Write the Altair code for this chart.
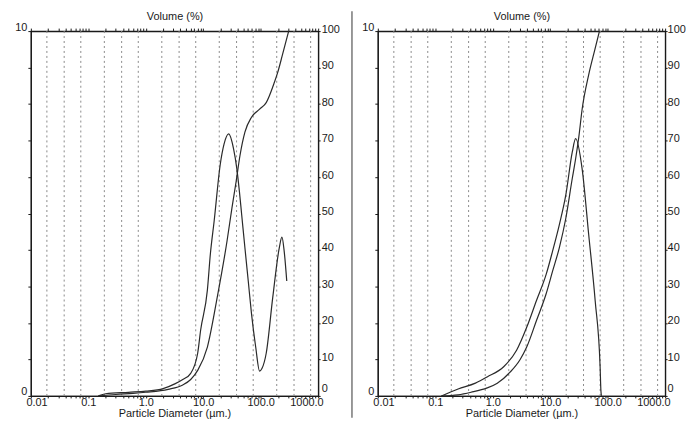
import altair as alt
import pandas as pd

# ---------------- data ----------------
# Left sample: frequency curve (Volume %, left axis 0-10) and cumulative (right axis 0-100)
left_freq_d = [0.15, 0.2, 0.5, 1.0, 2.0, 3.2, 4.4, 6.05, 8.0, 9.0, 11.8, 13.3, 15.5, 19.7, 23.0,
               27.7, 33.7, 38.4, 42.6, 46.7, 53.1, 60.7, 69.2, 81.8, 95.7, 105.0, 124.7, 162.0,
               210.0, 234.0, 256.0, 284.0]
left_freq_pct = [0.0, 0.06, 0.1, 0.13, 0.2, 0.33, 0.45, 0.62, 1.17, 1.8, 2.9, 3.89, 4.8, 6.33, 6.9,
                 7.18, 6.77, 6.23, 5.6, 4.96, 4.06, 3.15, 2.25, 1.34, 0.68, 0.75, 1.17, 2.7,
                 4.05, 4.35, 3.97, 3.15]
left_cum_d = [0.15, 0.3, 0.6, 1.0, 2.45, 4.4, 6.05, 8.0, 11.8, 17.5, 25.9, 31.5, 37.3, 43.6, 53.1,
              69.2, 95.7, 124.7, 172.6, 197.0, 240.0, 307.0]
left_cum_pct = [0.0, 0.4, 0.7, 1.0, 1.8, 3.0, 4.5, 7.0, 13.4, 27.0, 42.4, 51.4, 58.7, 65.9, 72.3,
                76.4, 78.6, 80.4, 85.9, 88.6, 93.6, 100.0]

# Right sample
right_freq_d = [0.128, 0.25, 0.5, 0.8, 1.55, 2.6, 3.9, 5.75, 8.5, 11.0, 14.4, 18.7, 24.2, 27.7,
                35.9, 46.7, 60.7, 73.9, 76.2, 77.8]
right_freq_pct = [0.0, 0.19, 0.35, 0.52, 0.8, 1.25, 1.88, 2.61, 3.33, 3.97, 4.69, 5.51, 6.68, 7.05,
                  6.23, 4.43, 2.6, 0.8, 0.16, 0.0]
right_cum_d = [0.128, 0.25, 0.42, 0.8, 1.2, 2.0, 3.0, 3.9, 5.75, 8.5, 11.0, 14.4, 18.7, 24.2, 27.7,
               31.5, 35.9, 46.7, 60.0, 72.0]
right_cum_pct = [0.0, 0.3, 1.0, 2.2, 3.5, 6.5, 10.0, 13.4, 20.6, 28.0, 34.2, 40.6, 48.7, 59.6, 65.0,
                 71.0, 78.5, 88.0, 95.0, 100.0]

# dotted vertical grid lines
grid_d = [0.019, 0.038, 0.074, 0.19, 0.38, 0.74, 1.9, 3.8, 7.4, 19.0, 38.0, 74.0, 190.0, 380.0, 740.0]

# axis ticks / labels
x_tick_values = [round(m * 10.0 ** k, 6) for k in range(-2, 3) for m in range(1, 10)] + [1000.0]
x_major_values = [0.01, 0.1, 1.0, 10.0, 100.0, 1000.0]
x_major_labels = ["0.01", "0.1", "1.0", "10.0", "100.0", "1000.0"]
freq_axis_values = list(range(0, 11))
freq_axis_labeled = [0, 10]
cum_axis_values = list(range(0, 101, 10))

x_title = "Particle Diameter (µm.)"
top_title = "Volume (%)"

# ---------------- styling ----------------
FONT = "Liberation Sans"
INK = "#1a1a1a"
LINE = "#2a2a2a"
W, H = 289, 367

xscale = alt.Scale(type="log", domain=[0.01, 1000], nice=False)

x_label_expr = " : ".join(
    f"datum.value == {v} ? '{l}'" for v, l in zip(x_major_values, x_major_labels)
) + " : ''"
freq_label_expr = " : ".join(
    f"datum.value == {v} ? '{v}'" for v in freq_axis_labeled
) + " : ''"

cum_label_offset = {"condition": {"test": "datum.value == 0", "value": -7}, "value": -2}


def panel(freq_d, freq_v, cum_d, cum_v, right_ext, right_pad, with_divider):
    freq_df = pd.DataFrame({"d": freq_d, "v": freq_v})
    cum_df = pd.DataFrame({"d": cum_d, "v": cum_v})
    grid_df = pd.DataFrame({"d": grid_d})
    one = pd.DataFrame({"k": [0]})

    grid = alt.Chart(grid_df).mark_rule(
        color="#8a8a8a", strokeDash=[2, 3], strokeWidth=1
    ).encode(x=alt.X("d:Q", scale=xscale, axis=None))

    freq = alt.Chart(freq_df).mark_line(
        color=LINE, strokeWidth=1.2, interpolate="monotone"
    ).encode(
        x=alt.X("d:Q", scale=xscale, axis=alt.Axis(
            orient="bottom", values=x_tick_values, labelExpr=x_label_expr,
            title=x_title, grid=False, tickSize=2, labelPadding=-1, labelFlush=True,
            labelFlushOffset=5, labelOverlap=False, titlePadding=0)),
        y=alt.Y("v:Q", scale=alt.Scale(domain=[0, 10], nice=False), axis=alt.Axis(
            orient="left", values=freq_axis_values, labelExpr=freq_label_expr, title=None,
            grid=False, tickSize=3, labelPadding=1, labelBaseline="alphabetic",
            labelOffset=-1, labelOverlap=False, minExtent=22, maxExtent=22)),
    )

    cum = alt.Chart(cum_df).mark_line(
        color=LINE, strokeWidth=1.2, interpolate="monotone"
    ).encode(
        x=alt.X("d:Q", scale=xscale, axis=alt.Axis(
            orient="top", values=x_tick_values, labels=False, title=top_title,
            grid=False, tickSize=3, titlePadding=6)),
        y=alt.Y("v:Q", scale=alt.Scale(domain=[0, 100], nice=False), axis=alt.Axis(
            orient="right", values=cum_axis_values, title=None, grid=False, tickSize=2,
            labelPadding=right_pad, labelBaseline="middle", labelOffset=cum_label_offset,
            labelOverlap=False, minExtent=right_ext, maxExtent=right_ext)),
    )

    layers = [grid, freq, cum]
    if with_divider:
        divider = alt.Chart(one).mark_rule(color="#555555", strokeWidth=1.2).encode(
            x=alt.value(W + 34), y=alt.value(-20), y2=alt.value(H + 22))
        layers.append(divider)

    return alt.layer(*layers).resolve_scale(y="independent").resolve_axis(
        x="independent", y="independent").properties(width=W, height=H)


left = panel(left_freq_d, left_freq_pct, left_cum_d, left_cum_pct, 35, 1, True)
right = panel(right_freq_d, right_freq_pct, right_cum_d, right_cum_pct, 25, 0, False)

chart = alt.hconcat(left, right, spacing=1).properties(
    padding={"left": 0, "top": 0, "right": -5, "bottom": 0},
    background="white",
).configure_view(
    stroke=INK, strokeWidth=1.2
).configure_axis(
    domainColor=INK, domainWidth=1.2, tickColor=INK, labelColor=INK, titleColor=INK,
    labelFont=FONT, titleFont=FONT, labelFontSize=11, titleFontSize=11,
    titleFontWeight="normal",
)

chart.save("out.html", embed_options={"renderer": "svg", "actions": False})
